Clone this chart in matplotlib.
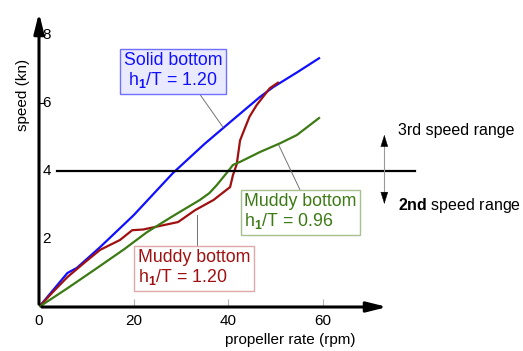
import matplotlib
matplotlib.use("Agg")
import matplotlib.pyplot as plt

plt.rcParams["font.family"] = ["Liberation Sans", "DejaVu Sans"]
plt.rcParams["mathtext.fontset"] = "custom"
plt.rcParams["mathtext.rm"] = "Liberation Sans"
plt.rcParams["mathtext.bf"] = "Liberation Sans:bold"

# propeller rate (rpm) vs speed (kn)
solid_rpm   = [0, 6, 8, 12.9, 20, 28.3, 35, 40.4, 46.7, 49.5, 54.5, 59.2]
solid_speed = [0, 1.0, 1.15, 1.76, 2.7, 3.94, 4.8, 5.44, 6.18, 6.47, 6.9, 7.32]

mud120_rpm   = [0, 3, 6, 10, 12.9, 17.1, 19.7, 22, 29.4, 33, 36.9, 40.4, 41,
                41.8, 42.5, 43.2, 44.5, 46, 48.8, 50.5]
mud120_speed = [0, 0.45, 0.88, 1.35, 1.68, 1.97, 2.26, 2.28, 2.5, 2.85, 3.15, 3.53, 3.88,
                4.2, 4.9, 5.15, 5.6, 5.94, 6.44, 6.6]

mud096_rpm   = [0, 6, 12.3, 18, 22.8, 28, 34, 36, 37.6, 40, 41, 42.5, 46.7, 51, 54.5, 59.2]
mud096_speed = [0, 0.55, 1.15, 1.7, 2.2, 2.65, 3.15, 3.35, 3.59, 4.0, 4.18, 4.27, 4.56, 4.82, 5.06, 5.56]

x_ticks = [20, 40, 60]
y_labels = [2, 4, 6, 8]
range_limit = 4

BLUE, RED, GREEN = "#1010ff", "#a01010", "#3c7a14"
BOX_FS = 12.8

fig = plt.figure(figsize=(5.23, 3.51), dpi=100)
ax = fig.add_axes([39/523, 44/351, 351/523, 297/351])
ax.set_xlim(0, 74.2)
ax.set_ylim(0, 8.74)
for s in ax.spines.values():
    s.set_visible(False)

# axes drawn as arrows
ax.annotate("", xy=(1, 0), xytext=(0, 0), xycoords="axes fraction",
            arrowprops=dict(arrowstyle="-|>,head_length=1.2,head_width=0.3", color="black", lw=2.2))
ax.annotate("", xy=(0, 1), xytext=(0, 0), xycoords="axes fraction",
            arrowprops=dict(arrowstyle="-|>,head_length=1.2,head_width=0.3", color="black", lw=2.2))

ax.set_xticks([0] + x_ticks)
ax.set_xticklabels(["0"] + [str(v) for v in x_ticks], fontsize=11)
ax.tick_params(axis="x", direction="in", length=6, color="0.7", pad=5)
ax.set_yticks([6, 8])
ax.set_yticklabels([])
ax.tick_params(axis="y", direction="in", length=4, color="black")
for v in y_labels:
    ax.text(0.7, v, str(v), fontsize=11, va="center", ha="left")

ax.plot(solid_rpm, solid_speed, color=BLUE, lw=1.6)
ax.plot(mud120_rpm, mud120_speed, color=RED, lw=1.6)
ax.plot(mud096_rpm, mud096_speed, color=GREEN, lw=1.6)

ax.plot([3.8, 79.5], [range_limit, range_limit], color="black", lw=1.6, clip_on=False)

# speed range arrow
ax.plot([73, 73], [3.1, 5.0], color="0.6", lw=0.8, clip_on=False)
ax.annotate("", xy=(73, 5.15), xytext=(73, 4.7),
            arrowprops=dict(arrowstyle="-|>,head_length=0.8,head_width=0.25", color="black", lw=0.3),
            annotation_clip=False)
ax.annotate("", xy=(73, 2.95), xytext=(73, 3.4),
            arrowprops=dict(arrowstyle="-|>,head_length=0.8,head_width=0.25", color="black", lw=0.3),
            annotation_clip=False)
ax.text(75.8, 5.2, "3rd speed range", fontsize=11.5, va="center", ha="left", clip_on=False)
ax.text(75.8, 3.0, r"$\mathbf{2nd}$ speed range", fontsize=11.5, va="center", ha="left", clip_on=False)

# callouts
ax.plot([34.0, 38.9], [6.26, 5.29], color="0.45", lw=0.7)
ax.text(28.3, 6.94, "Solid bottom\nh$_{\\mathbf{1}}$/T = 1.20", color=BLUE, fontsize=BOX_FS,
        ha="center", va="center", multialignment="center", linespacing=1.1,
        bbox=dict(boxstyle="square,pad=0.2", fc="#eaeaff", ec="#7070ff", lw=1))

ax.plot([55.2, 50.7], [3.44, 4.76], color="0.45", lw=0.7)
ax.text(55.3, 2.79, "Muddy bottom\nh$_{\\mathbf{1}}$/T = 0.96", color=GREEN, fontsize=BOX_FS,
        ha="center", va="center", multialignment="left", linespacing=1.1,
        bbox=dict(boxstyle="square,pad=0.2", fc="white", ec="#a8c090", lw=1), clip_on=False)

ax.plot([33.4, 33.4], [1.82, 2.7], color="0.45", lw=0.7)
ax.text(32.8, 1.15, "Muddy bottom\nh$_{\\mathbf{1}}$/T = 1.20", color=RED, fontsize=BOX_FS,
        ha="center", va="center", multialignment="left", linespacing=1.1,
        bbox=dict(boxstyle="square,pad=0.2", fc="white", ec="#e0a8a8", lw=1))

fig.text(290/523, 1 - 340/351, "propeller rate (rpm)", fontsize=11, ha="center", va="center")
ax.text(-0.047, 6.24, "speed (kn)", transform=ax.get_yaxis_transform(), fontsize=11,
        ha="center", va="center", rotation=90, clip_on=False)

fig.savefig("out.png", dpi=100)
